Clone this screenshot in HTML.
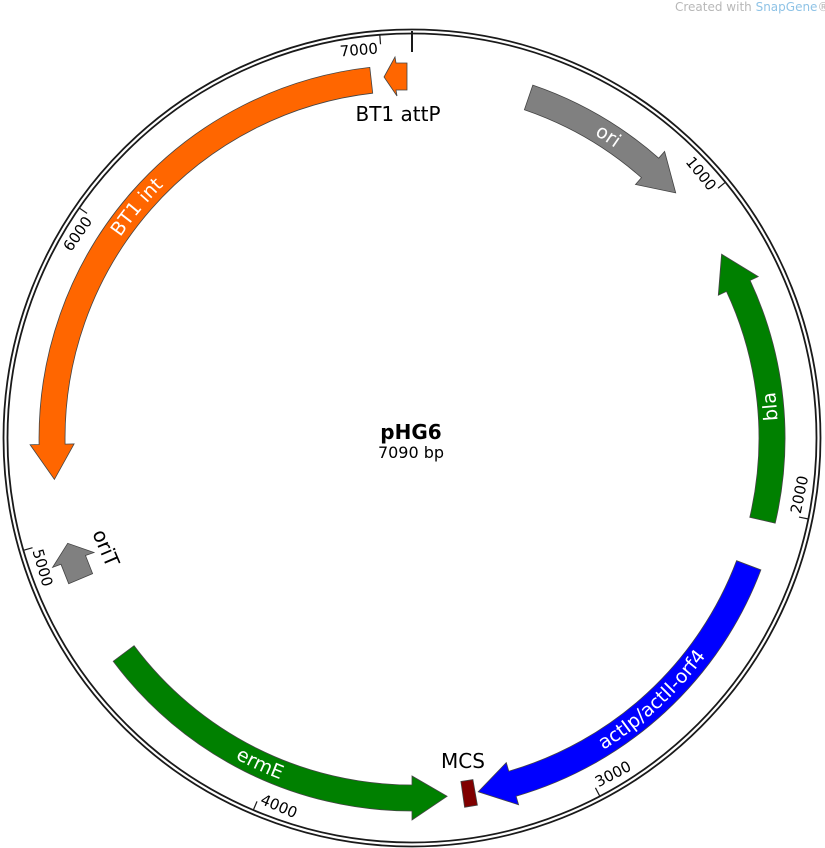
<!DOCTYPE html>
<html><head><meta charset="utf-8"><style>
html,body{margin:0;padding:0;background:#fff;}
svg{display:block;font-family:"DejaVu Sans","Liberation Sans",sans-serif;}
</style></head><body>
<svg width="825" height="848" viewBox="0 0 825 848" xmlns="http://www.w3.org/2000/svg">
<text x="675" y="11" font-size="12" fill="#b8b8b8">Created with <tspan fill="#8fc3e6">SnapGene</tspan>®</text>
<circle cx="412" cy="438" r="408.5" fill="none" stroke="#1a1a1a" stroke-width="1.8"/>
<circle cx="412" cy="438" r="404.5" fill="none" stroke="#1a1a1a" stroke-width="1.8"/>
<line x1="412" y1="31" x2="412" y2="52" stroke="#1a1a1a" stroke-width="2"/>
<g stroke="#1a1a1a" stroke-width="1.2">
<line x1="412" y1="34" x2="412" y2="43" transform="rotate(50.78 412 438)"/>
<line x1="412" y1="34" x2="412" y2="43" transform="rotate(101.55 412 438)"/>
<line x1="412" y1="34" x2="412" y2="43" transform="rotate(152.33 412 438)"/>
<line x1="412" y1="34" x2="412" y2="43" transform="rotate(203.10 412 438)"/>
<line x1="412" y1="34" x2="412" y2="43" transform="rotate(253.88 412 438)"/>
<line x1="412" y1="34" x2="412" y2="43" transform="rotate(304.65 412 438)"/>
<line x1="412" y1="34" x2="412" y2="43" transform="rotate(355.43 412 438)"/>
</g>
<g font-size="15" fill="#000">
<text x="409" y="52" text-anchor="end" transform="rotate(50.78 412 438)">1000</text>
<text x="409" y="52" text-anchor="end" transform="rotate(304.65 412 438)">6000</text>
<text x="409" y="52" text-anchor="end" transform="rotate(355.43 412 438)">7000</text>
<text x="415" y="834" text-anchor="start" transform="rotate(-78.45 412 438)">2000</text>
<text x="415" y="834" text-anchor="start" transform="rotate(-27.67 412 438)">3000</text>
<text x="415" y="834" text-anchor="start" transform="rotate(23.10 412 438)">4000</text>
<text x="415" y="834" text-anchor="start" transform="rotate(73.88 412 438)">5000</text>
</g>
<g stroke="#444" stroke-width="0.8">
<path fill="#ff6600" d="M369.8,67.4 A373,373 0 0 0 39.1,444.5 L30.1,444.7 L54.4,479.4 L74.1,443.9 L65.1,444.1 A347,347 0 0 1 372.7,93.2 Z"/>
<path fill="#ff6600" d="M407,63 L396,63 L395,57 L384,77 L397,96 L396,90 L407,90 Z"/>
<path fill="#808080" d="M532.8,85.1 A373,373 0 0 1 658.7,158.2 L664.6,151.5 L675.7,192.9 L635.5,184.5 L641.5,177.7 A347,347 0 0 0 524.4,109.7 Z"/>
<path fill="#008000" d="M775.2,523.2 A373,373 0 0 0 750.1,280.4 L758.2,276.6 L721.6,254.2 L718.3,295.2 L726.5,291.4 A347,347 0 0 1 749.8,517.3 Z"/>
<path fill="#0000ff" d="M760.9,569.9 A373,373 0 0 1 516.1,796.2 L518.6,804.8 L478.2,791.8 L506.3,762.6 L508.8,771.2 A347,347 0 0 0 736.6,560.7 Z"/>
<path fill="#800000" d="M477.4,805.2 L472.9,779.6 L460.9,781.5 L464.6,807.3 Z"/>
<path fill="#008000" d="M113.2,661.3 A373,373 0 0 0 412,811 L412,820 L447.1,796.3 L412,776 L412,785 A347,347 0 0 1 134.1,645.7 Z"/>
<path fill="#808080" d="M68.7,583.7 L61.0,564.3 L52.6,567.4 L67.7,543.3 L94.0,552.5 L85.5,555.5 L92.6,573.6 Z"/>
</g>
<defs>
<path id="pOri" d="M491.6,93.1 A353,353 0 0 1 694.7,225.0"/>
<path id="pBT" d="M63.4,376.5 A353,353 0 0 1 290.9,105.3"/>
<path id="pBla" d="M755.9,563.2 A367,367 0 0 0 729.0,255.0"/>
<path id="pAct" d="M506.7,791.5 A367,367 0 0 0 755.9,563.2"/>
<path id="pErm" d="M131.6,673.3 A367,367 0 0 0 412,804"/>
</defs>
<g font-size="19" fill="#fff" text-anchor="middle">
<text><textPath href="#pOri" startOffset="50%">ori</textPath></text>
<text><textPath href="#pBT" startOffset="50%">BT1 int</textPath></text>
<text><textPath href="#pBla" startOffset="50%">bla</textPath></text>
<text><textPath href="#pAct" startOffset="50%">actIp/actII-orf4</textPath></text>
<text><textPath href="#pErm" startOffset="50%">ermE</textPath></text>
</g>
<g font-size="20" fill="#000" text-anchor="middle">
<text x="398" y="121">BT1 attP</text>
<text x="463" y="768">MCS</text>
<text x="106" y="555" transform="rotate(67 106 548)">oriT</text>
</g>
<text x="411" y="439" font-size="20" font-weight="bold" text-anchor="middle">pHG6</text>
<text x="411" y="458" font-size="16" text-anchor="middle">7090 bp</text>
</svg>
</body></html>
